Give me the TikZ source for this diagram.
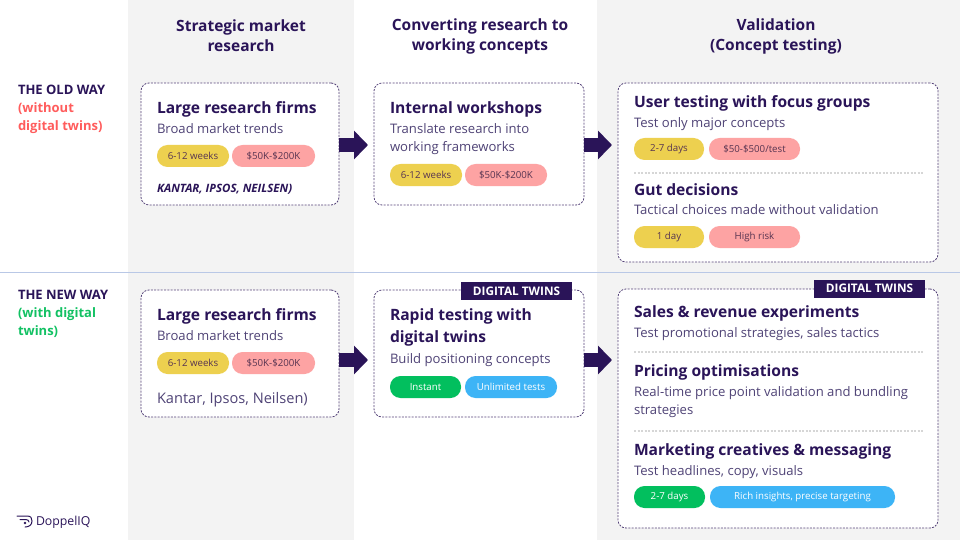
\documentclass[tikz,border=0pt]{standalone}
\usepackage{fontspec}
\setmainfont{Open Sans}
\usetikzlibrary{arrows.meta,positioning}
\definecolor{ink}{HTML}{2A1458}
\definecolor{subink}{HTML}{4F4376}
\definecolor{panel}{HTML}{F3F3F3}
\definecolor{rule}{HTML}{B9C8E6}
\definecolor{pillyellow}{HTML}{EDD04F}
\definecolor{pillred}{HTML}{FDA3A3}
\definecolor{pillgreen}{HTML}{02BF5E}
\definecolor{pillblue}{HTML}{3DB4F6}
\definecolor{oldred}{HTML}{FF5C5C}
\definecolor{newgreen}{HTML}{12C163}
\begin{document}
\begin{tikzpicture}[x=1pt,y=-1pt,
  every node/.style = {inner sep=0pt, outer sep=0pt},
  colhead/.style = {align=center, font=\fontsize{15.5}{20}\selectfont\bfseries, text=ink},
  rowhead/.style = {anchor=north west, align=left, font=\fontsize{13}{18}\selectfont\bfseries},
  boxframe/.style = {draw=ink!80, rounded corners=8pt, fill=white, line width=.8pt, dash pattern=on 2pt off 1.3pt, minimum height=#1, anchor=north west},
  boxhead/.style = {anchor=base west, font=\fontsize{15.6}{20}\selectfont\bfseries, text=ink},
  boxsub/.style = {anchor=base west, font=\fontsize{13.1}{18}\selectfont, text=subink},
  pill/.style = {rounded corners=10.5pt, minimum height=22pt, font=\fontsize{9.7}{10}\selectfont, anchor=west},
  weeks/.style = {pill, fill=pillyellow, text=ink!70!brown},
  cost/.style = {pill, fill=pillred, text=ink!70!brown},
  fast/.style = {pill, fill=pillgreen, text=white},
  wide/.style = {pill, fill=pillblue, text=white},
  twintag/.style = {fill=ink, text=white, minimum width=111pt, minimum height=18pt, font=\fontsize{11.8}{12}\selectfont\bfseries},
  bigarrow/.style = {ink, line width=14pt, -{Triangle[length=14pt,width=28pt]}, shorten >=6pt},
  sep/.style = {draw=black!16, line width=2pt, dash pattern=on 2pt off 1.5pt}]
  \useasboundingbox (0,0) rectangle (960,540);
  % panels and divider
  \fill[panel] (128,0) rectangle (354,540);
  \fill[panel] (597,0) rectangle (960,540);
  \coordinate (ruleL) at (0,272.5);
  \coordinate (ruleR) at (960,272.5);
  \draw[rule, line width=1pt] (ruleL) -- (ruleR);

  % column and row titles
  \node[colhead] (colA) at (241,36) {Strategic market\\research};
  \node[colhead] (colB) at (480,36) {Converting research to\\working concepts};
  \node[colhead] (colC) at (776,36) {Validation\\(Concept testing)};
  \node[rowhead] (rowOld) at (18,85.5) {\textcolor{ink}{THE OLD WAY}\\\textcolor{oldred}{(without}\\\textcolor{oldred}{digital twins)}};
  \node[rowhead] (rowNew) at (18,290.5) {\textcolor{ink}{THE NEW WAY}\\\textcolor{newgreen}{(with digital}\\\textcolor{newgreen}{twins)}};

  % frames
  \node[boxframe=122pt, minimum width=198pt] (oldA) at (141,83) {};
  \node[boxframe=122pt, minimum width=210pt] (oldB) at (374,83) {};
  \node[boxframe=179pt, minimum width=320pt] (oldC) at (618,83) {};
  \node[boxframe=127pt, minimum width=198pt] (newA) at (141,290) {};
  \node[boxframe=127pt, minimum width=210pt] (newB) at (374,290) {};
  \node[boxframe=239pt, minimum width=320pt] (newC) at (618,289) {};

  % arrows
  \draw[bigarrow] ([yshift=-1pt]oldA.east) -- ([yshift=-1pt]oldB.west);
  \draw[bigarrow] ([yshift=-1pt]oldB.east) -- ([yshift=-1pt]oldC.west |- oldB.east);
  \draw[bigarrow] ([yshift=-6.5pt]newA.east) -- ([yshift=-6.5pt]newB.west);
  \draw[bigarrow] ([yshift=-6.5pt]newB.east) -- ([yshift=-6.5pt]newC.west |- newB.east);

  % old way, first column
  \node[boxhead] (oldAh) at (157,113.5) {Large research firms};
  \node[boxsub] (oldAs) at (157,133.5) {Broad market trends};
  \node[weeks, minimum width=72pt] (oldAw) at (157,156) {6-12 weeks};
  \node[cost, minimum width=83pt, right=3pt of oldAw] (oldAc) {\$50K-\$200K};
  \node[anchor=base west, font=\fontsize{11.5}{12}\selectfont\bfseries\itshape, text=ink] (oldAv) at (157,192) {KANTAR, IPSOS, NEILSEN)};

  % old way, second column
  \node[boxhead] (oldBh) at (390,113.5) {Internal workshops};
  \node[boxsub] (oldBs) at (390,133.5) {Translate research into};
  \node[boxsub] (oldBt) at (390,151.5) {working frameworks};
  \node[weeks, minimum width=72pt] (oldBw) at (390,175) {6-12 weeks};
  \node[cost, minimum width=82pt, right=3pt of oldBw] (oldBc) {\$50K-\$200K};

  % old way, third column
  \node[boxhead] (oldCh) at (634,107.5) {User testing with focus groups};
  \node[boxsub] (oldCs) at (634,127.5) {Test only major concepts};
  \node[weeks, minimum width=70pt] (oldCw) at (634,149) {2-7 days};
  \node[cost, minimum width=91pt, right=5pt of oldCw] (oldCc) {\$50-\$500/test};
  \coordinate (oldCl) at (634,173);
  \coordinate (oldCr) at (924,173);
  \draw[sep] (oldCl) -- (oldCr);
  \node[boxhead] (oldCg) at (634,195) {Gut decisions};
  \node[boxsub] (oldCt) at (634,214) {Tactical choices made without validation};
  \node[weeks, minimum width=70pt] (oldCd) at (634,237) {1 day};
  \node[cost, minimum width=91pt, right=5pt of oldCd] (oldCr2) {High risk};

  % new way, first column
  \node[boxhead] (newAh) at (157,320) {Large research firms};
  \node[boxsub] (newAs) at (157,340) {Broad market trends};
  \node[weeks, minimum width=72pt] (newAw) at (157,363) {6-12 weeks};
  \node[cost, minimum width=83pt, right=3pt of newAw] (newAc) {\$50K-\$200K};
  \node[anchor=base west, font=\fontsize{14.6}{16}\selectfont, text=subink] (newAv) at (157,403) {Kantar, Ipsos, Neilsen)};

  % new way, second column
  \node[twintag] (tagB) at (516.5,291) {DIGITAL TWINS};
  \node[boxhead] (newBh) at (390,320) {Rapid testing with};
  \node[boxhead] (newBt) at (390,342) {digital twins};
  \node[boxsub] (newBs) at (390,363) {Build positioning concepts};
  \node[fast, minimum width=71pt] (newBf) at (390,387) {Instant};
  \node[wide, minimum width=92pt, right=4pt of newBf] (newBu) {Unlimited tests};

  % new way, third column
  \node[twintag] (tagC) at (869.5,288.5) {DIGITAL TWINS};
  \node[boxhead] (newCh) at (634,317) {Sales \& revenue experiments};
  \node[boxsub] (newCs) at (634,337) {Test promotional strategies, sales tactics};
  \coordinate (newCa) at (634,351.5);
  \coordinate (newCb) at (924,351.5);
  \draw[sep] (newCa) -- (newCb);
  \node[boxhead] (newCp) at (634,376) {Pricing optimisations};
  \node[boxsub] (newCq) at (634,396) {Real-time price point validation and bundling};
  \node[boxsub] (newCr) at (634,414) {strategies};
  \coordinate (newCc) at (634,430.5);
  \coordinate (newCd) at (924,430.5);
  \draw[sep] (newCc) -- (newCd);
  \node[boxhead] (newCm) at (634,455) {Marketing creatives \& messaging};
  \node[boxsub] (newCt) at (634,475) {Test headlines, copy, visuals};
  \node[fast, minimum width=71pt] (newCf) at (634,497) {2-7 days};
  \node[wide, minimum width=185pt, right=5pt of newCf] (newCi) {Rich insights, precise targeting};

  % logo
  \draw[ink, line width=1pt, line cap=round] (17,516) -- (27,516) .. controls (31,516) and (32,518) .. (32,521) .. controls (32,525) and (29,527) .. (25,527);
  \draw[ink, line width=1pt, line cap=round] (20,519.5) -- (26,519.5) .. controls (28,519.5) and (29,521) .. (29,522);
  \fill[ink] (25,523) circle (1.3);
  \node[anchor=base west, font=\fontsize{12.3}{14}\selectfont, text=ink] (logo) at (36,525.5) {DoppelIQ};
\end{tikzpicture}
\end{document}
